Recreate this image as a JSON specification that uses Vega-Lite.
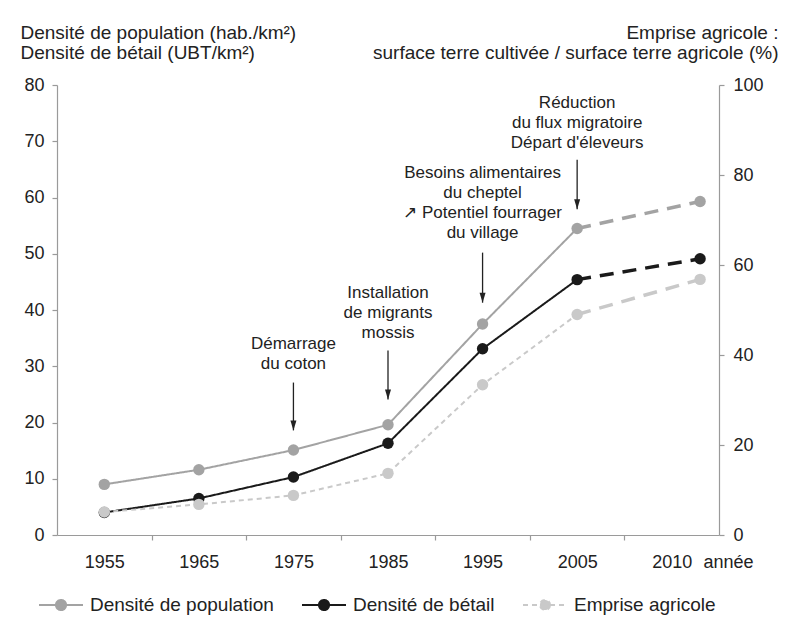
{
  "$schema": "https://vega.github.io/schema/vega-lite/v6.json",
  "width": 662,
  "height": 450,
  "autosize": "none",
  "padding": {"left": 57, "top": 85, "right": 77, "bottom": 89},
  "background": "white",
  "config": {
    "font": "Liberation Sans",
    "view": {"stroke": null},
    "axis": {
      "grid": false,
      "domainColor": "#9a9a9a",
      "tickColor": "#9a9a9a",
      "domainWidth": 1.2,
      "tickWidth": 1.2,
      "labelColor": "#222222",
      "labelFont": "Liberation Sans",
      "labelFontSize": 18,
      "titleFont": "Liberation Sans",
      "titleFontWeight": "normal",
      "titleColor": "#222222",
      "titleFontSize": 19
    },
    "legend": {"labelFont": "Liberation Sans", "labelColor": "#222222"}
  },
  "datasets": {
    "series": [
      {"annee": 1955, "serie": "Densité de population", "valeur": 9.0},
      {"annee": 1965, "serie": "Densité de population", "valeur": 11.6},
      {"annee": 1975, "serie": "Densité de population", "valeur": 15.1},
      {"annee": 1985, "serie": "Densité de population", "valeur": 19.6},
      {"annee": 1995, "serie": "Densité de population", "valeur": 37.5},
      {"annee": 2005, "serie": "Densité de population", "valeur": 54.5},
      {"annee": 2018, "serie": "Densité de population", "valeur": 59.3},
      {"annee": 1955, "serie": "Densité de bétail", "valeur": 4.0},
      {"annee": 1965, "serie": "Densité de bétail", "valeur": 6.5},
      {"annee": 1975, "serie": "Densité de bétail", "valeur": 10.3},
      {"annee": 1985, "serie": "Densité de bétail", "valeur": 16.3},
      {"annee": 1995, "serie": "Densité de bétail", "valeur": 33.1},
      {"annee": 2005, "serie": "Densité de bétail", "valeur": 45.4},
      {"annee": 2018, "serie": "Densité de bétail", "valeur": 49.1},
      {"annee": 1955, "serie": "Emprise agricole", "valeur": 5.1},
      {"annee": 1965, "serie": "Emprise agricole", "valeur": 6.8},
      {"annee": 1975, "serie": "Emprise agricole", "valeur": 8.8},
      {"annee": 1985, "serie": "Emprise agricole", "valeur": 13.7},
      {"annee": 1995, "serie": "Emprise agricole", "valeur": 33.4},
      {"annee": 2005, "serie": "Emprise agricole", "valeur": 49.0},
      {"annee": 2018, "serie": "Emprise agricole", "valeur": 56.8}
    ],
    "annotations": [
      {"annee": 1975, "texte": "Démarrage\ndu coton", "valeur": 33.0, "y_haut": 27.1, "y_pointe": 18.6},
      {"annee": 1985, "texte": "Installation\nde migrants\nmossis", "valeur": 42.2, "y_haut": 32.8, "y_pointe": 24.1},
      {"annee": 1995, "texte": "Besoins alimentaires\ndu cheptel\n↗ Potentiel fourrager\ndu village", "valeur": 63.4, "y_haut": 50.2, "y_pointe": 41.3},
      {"annee": 2005, "texte": "Réduction\ndu flux migratoire\nDépart d'éleveurs", "valeur": 76.0, "y_haut": 66.7, "y_pointe": 57.9}
    ]
  },
  "layer": [
    {
      "encoding": {
        "x": {
          "field": "annee", "type": "quantitative",
          "scale": {"domain": [1950, 2020], "nice": false, "zero": false},
          "axis": {"orient": "bottom", "values": [1960, 1970, 1980, 1990, 2000, 2010], "labels": false, "tickSize": 5, "title": null}
        },
        "y": {
          "field": "valeur", "type": "quantitative",
          "scale": {"domain": [0, 80], "nice": false},
          "axis": {
            "orient": "left", "values": [0, 10, 20, 30, 40, 50, 60, 70, 80], "tickSize": 5, "labelPadding": 8,
            "title": ["Densité de population (hab./km²)", "Densité de bétail (UBT/km²)"],
            "titleAngle": 0, "titleAlign": "left", "titleBaseline": "alphabetic",
            "titleX": -37, "titleY": -47, "titleLineHeight": 20
          }
        }
      },
      "layer": [
        {
          "data": {"name": "series"},
          "transform": [{"filter": "datum.serie != 'Emprise agricole' && datum.annee <= 2005"}],
          "mark": {"type": "line", "strokeWidth": 2},
          "encoding": {
            "color": {
              "field": "serie", "type": "nominal",
              "scale": {"domain": ["Densité de population", "Densité de bétail", "Emprise agricole"], "range": ["#a3a3a3", "#1a1a1a", "#c9c9c9"]},
              "legend": {
                "orient": "none", "legendX": -19, "legendY": 497, "direction": "horizontal", "title": null,
                "symbolType": "M-1,0L1,0M0.23,0A0.23,0.23,0,1,1,-0.23,0A0.23,0.23,0,1,1,0.23,0Z",
                "symbolSize": 1936, "symbolStrokeWidth": 2, "labelFontSize": 19, "labelLimit": 400, "labelOffset": 6, "columnPadding": 24, "padding": 0,
                "encode": {"symbols": {"update": {"fill": {"scale": "color", "field": "value"}}}}
              }
            },
            "strokeDash": {
              "field": "serie", "type": "nominal",
              "scale": {"domain": ["Densité de population", "Densité de bétail", "Emprise agricole"], "range": [[1, 0], [1, 0], [5, 4]]},
              "legend": {
                "orient": "none", "legendX": -19, "legendY": 497, "direction": "horizontal", "title": null,
                "symbolType": "M-1,0L1,0M0.23,0A0.23,0.23,0,1,1,-0.23,0A0.23,0.23,0,1,1,0.23,0Z",
                "symbolSize": 1936, "symbolStrokeWidth": 2, "labelFontSize": 19, "labelLimit": 400, "labelOffset": 6, "columnPadding": 24, "padding": 0,
                "encode": {"symbols": {"update": {"fill": {"scale": "color", "field": "value"}}}}
              }
            }
          }
        },
        {
          "data": {"name": "series"},
          "transform": [{"filter": "datum.serie != 'Emprise agricole' && datum.annee >= 2005"}],
          "mark": {"type": "line", "strokeWidth": 3.5, "strokeDash": [14, 9]},
          "encoding": {
            "color": {"field": "serie", "type": "nominal"}
          }
        },
        {
          "data": {"name": "series"},
          "transform": [{"filter": "datum.serie != 'Emprise agricole'"}],
          "mark": {"type": "point", "filled": true, "opacity": 1, "size": 130, "shape": "circle"},
          "encoding": {
            "color": {"field": "serie", "type": "nominal"}
          }
        },
        {
          "data": {"name": "annotations"},
          "mark": {"type": "text", "align": "center", "baseline": "alphabetic", "lineBreak": "\n", "lineHeight": 20, "fontSize": 17, "color": "#222222", "font": "Liberation Sans"},
          "encoding": {
            "text": {"field": "texte", "type": "nominal"}
          }
        },
        {
          "data": {"name": "annotations"},
          "mark": {"type": "rule", "color": "#222222", "strokeWidth": 1.3},
          "encoding": {
            "y": {
              "field": "y_haut", "type": "quantitative",
              "scale": {"domain": [0, 80], "nice": false},
              "axis": {
                "orient": "left", "values": [0, 10, 20, 30, 40, 50, 60, 70, 80], "tickSize": 5, "labelPadding": 8,
                "title": ["Densité de population (hab./km²)", "Densité de bétail (UBT/km²)"],
                "titleAngle": 0, "titleAlign": "left", "titleBaseline": "alphabetic",
                "titleX": -37, "titleY": -47, "titleLineHeight": 20
              }
            },
            "y2": {"field": "y_pointe"}
          }
        },
        {
          "data": {"name": "annotations"},
          "mark": {"type": "point", "filled": true, "opacity": 1, "size": 400, "color": "#222222", "shape": "M-0.3,-1L0.3,-1L0,0Z"},
          "encoding": {
            "y": {
              "field": "y_pointe", "type": "quantitative",
              "scale": {"domain": [0, 80], "nice": false},
              "axis": {
                "orient": "left", "values": [0, 10, 20, 30, 40, 50, 60, 70, 80], "tickSize": 5, "labelPadding": 8,
                "title": ["Densité de population (hab./km²)", "Densité de bétail (UBT/km²)"],
                "titleAngle": 0, "titleAlign": "left", "titleBaseline": "alphabetic",
                "titleX": -37, "titleY": -47, "titleLineHeight": 20
              }
            }
          }
        }
      ]
    },
    {
      "data": {"name": "series"},
      "transform": [{"filter": "datum.serie == 'Emprise agricole'"}],
      "encoding": {
        "x": {
          "field": "annee", "type": "quantitative",
          "scale": {"domain": [1950, 2020], "nice": false, "zero": false},
          "axis": {
            "orient": "bottom", "values": [1955, 1965, 1975, 1985, 1995, 2005, 2015], "format": "d",
            "labelExpr": "datum.value == 2015 ? '2010' : datum.label",
            "domain": false, "tickSize": 5, "tickOpacity": 0, "labelPadding": 13, "labelOverlap": false, "labelFlush": false,
            "title": "année", "titleFontSize": 18, "titleX": 646, "titleY": 32, "titleAlign": "left", "titleBaseline": "alphabetic"
          }
        },
        "y": {
          "field": "valeur", "type": "quantitative",
          "scale": {"domain": [0, 100], "nice": false},
          "axis": {
            "orient": "right", "values": [0, 20, 40, 60, 80, 100], "tickSize": 5, "labelPadding": 9,
            "title": ["Emprise agricole :", "surface terre cultivée / surface terre agricole (%)"],
            "titleAngle": 0, "titleAlign": "right", "titleBaseline": "alphabetic",
            "titleX": 59, "titleY": -47, "titleLineHeight": 20
          }
        },
        "color": {"field": "serie", "type": "nominal"}
      },
      "layer": [
        {
          "transform": [{"filter": "datum.annee <= 2005"}],
          "mark": {"type": "line", "strokeWidth": 2},
          "encoding": {"strokeDash": {"field": "serie", "type": "nominal"}}
        },
        {
          "transform": [{"filter": "datum.annee >= 2005"}],
          "mark": {"type": "line", "strokeWidth": 3.5, "strokeDash": [14, 9]}
        },
        {
          "mark": {"type": "point", "filled": true, "opacity": 1, "size": 130, "shape": "circle"}
        }
      ]
    }
  ],
  "resolve": {"scale": {"y": "independent"}, "axis": {"x": "independent"}}
}
